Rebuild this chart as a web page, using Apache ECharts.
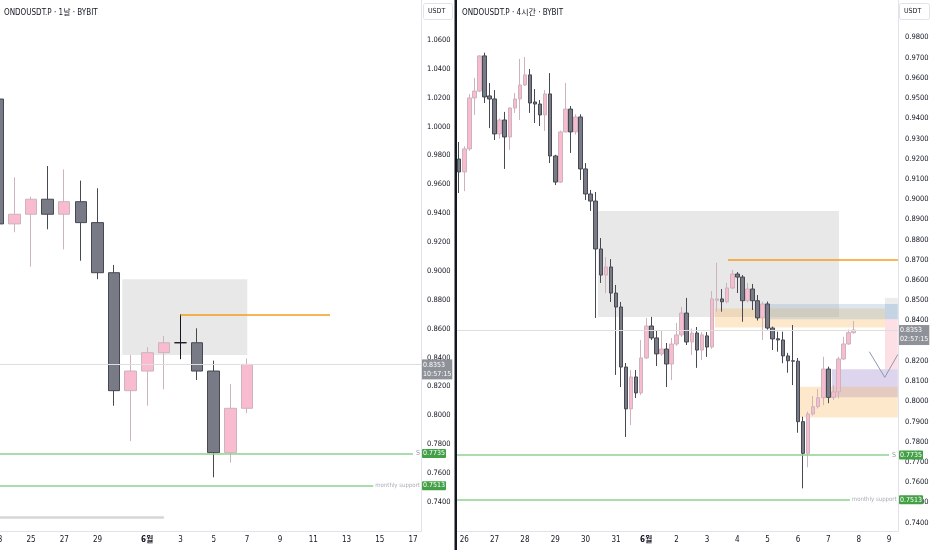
<!DOCTYPE html>
<html>
<head>
<meta charset="utf-8">
<script src="https://cdn.jsdelivr.net/npm/echarts@6/dist/echarts.min.js"></script>
<style>
html,body{margin:0;padding:0;background:#ffffff;}
#chart{width:932px;height:550px;}
</style>
</head>
<body>
<div id="chart"></div>
<script>
// ---------- DATA ----------
// day numbers on a continuous scale where 6월 1일 = 32 (5월 31일 = 31)
const dailyDays = [23,24,25,26,27,28,29,30,31,32,33,34,35,36,37,38];
// [open, close, low, high]
const dailyOHLC = [
  [1.0191,0.9326,0.9290,1.0250],
  [0.9326,0.9393,0.9268,0.9649],
  [0.9393,0.9497,0.9030,0.9515],
  [0.9497,0.9393,0.9289,0.9727],
  [0.9393,0.9480,0.9150,0.9704],
  [0.9480,0.9335,0.9071,0.9626],
  [0.9335,0.8988,0.8943,0.9573],
  [0.8988,0.8171,0.8067,0.9042],
  [0.8171,0.8307,0.7823,0.8418],
  [0.8307,0.8434,0.8067,0.8472],
  [0.8434,0.8503,0.8181,0.8550],
  [0.8503,0.8503,0.8389,0.8700],
  [0.8503,0.8307,0.8245,0.8603],
  [0.8307,0.7742,0.7571,0.8379],
  [0.7742,0.8049,0.7672,0.8217],
  [0.8049,0.8353,0.8015,0.8395]
];
// 4h bars: first bar is 37 bars before 6월 1일 00:00
const h4FirstBar = -37;
const h4OHLC = [
  [0.9199,0.9135,0.9031,0.9283],[0.9135,0.9249,0.9040,0.9262],[0.9249,0.9501,0.9240,0.9520],
  [0.9501,0.9535,0.9417,0.9600],[0.9535,0.9709,0.9530,0.9712],[0.9709,0.9506,0.9476,0.9725],
  [0.9511,0.9496,0.9352,0.9575],[0.9496,0.9323,0.9293,0.9540],[0.9323,0.9392,0.9300,0.9400],
  [0.9392,0.9308,0.9150,0.9432],[0.9308,0.9451,0.9244,0.9455],[0.9451,0.9496,0.9427,0.9525],
  [0.9496,0.9565,0.9392,0.9694],[0.9565,0.9615,0.9560,0.9704],[0.9615,0.9476,0.9427,0.9644],
  [0.9481,0.9471,0.9377,0.9545],[0.9471,0.9417,0.9362,0.9491],[0.9417,0.9521,0.9338,0.9540],
  [0.9521,0.9214,0.9179,0.9624],[0.9214,0.9085,0.9070,0.9220],[0.9085,0.9333,0.9080,0.9340],
  [0.9333,0.9446,0.9330,0.9575],[0.9446,0.9333,0.9229,0.9461],[0.9333,0.9407,0.9320,0.9420],
  [0.9407,0.9150,0.9095,0.9420],[0.9150,0.9026,0.8996,0.9179],[0.9026,0.8991,0.8942,0.9046],
  [0.8991,0.8754,0.8413,0.9036],[0.8754,0.8625,0.8586,0.8808],[0.8625,0.8665,0.8536,0.8714],
  [0.8665,0.8536,0.8492,0.8704],[0.8536,0.8467,0.8131,0.8576],[0.8467,0.8170,0.8071,0.8492],
  [0.8170,0.7963,0.7824,0.8190],[0.7963,0.8121,0.7883,0.8155],[0.8121,0.8042,0.8017,0.8155],
  [0.8042,0.8215,0.8032,0.8304],[0.8215,0.8373,0.8210,0.8413],[0.8373,0.8314,0.8304,0.8418],
  [0.8314,0.8235,0.8175,0.8353],[0.8235,0.8259,0.8225,0.8353],[0.8259,0.8185,0.8071,0.8289],
  [0.8185,0.8284,0.8106,0.8314],[0.8284,0.8329,0.8275,0.8388],[0.8329,0.8437,0.8320,0.8467],
  [0.8437,0.8294,0.8279,0.8512],[0.8294,0.8338,0.8230,0.8360],[0.8338,0.8254,0.8166,0.8368],
  [0.8254,0.8329,0.8205,0.8343],[0.8324,0.8269,0.8220,0.8343],[0.8269,0.8507,0.8260,0.8546],
  [0.8500,0.8507,0.8444,0.8686],[0.8507,0.8493,0.8444,0.8556],[0.8493,0.8561,0.8485,0.8586],
  [0.8561,0.8630,0.8555,0.8650],[0.8630,0.8615,0.8536,0.8640],[0.8615,0.8498,0.8394,0.8625],
  [0.8498,0.8556,0.8490,0.8586],[0.8556,0.8498,0.8452,0.8581],[0.8498,0.8413,0.8400,0.8526],
  [0.8413,0.8482,0.8304,0.8494],[0.8482,0.8363,0.8355,0.8494],[0.8363,0.8309,0.8254,0.8370],
  [0.8310,0.8304,0.8246,0.8345],[0.8304,0.8225,0.8189,0.8345],[0.8225,0.8201,0.8142,0.8240],
  [0.8201,0.8199,0.8081,0.8378],[0.8199,0.7900,0.7845,0.8215],[0.7900,0.7743,0.7570,0.7924],
  [0.7743,0.7938,0.7674,0.7949],[0.7938,0.7974,0.7930,0.8027],[0.7974,0.8018,0.7965,0.8061],
  [0.8018,0.8160,0.7982,0.8221],[0.8160,0.8020,0.7991,0.8172],[0.8020,0.8047,0.8007,0.8081],
  [0.8047,0.8210,0.8015,0.8221],[0.8210,0.8284,0.8205,0.8320],[0.8284,0.8340,0.8280,0.8355],
  [0.8340,0.8353,0.8335,0.8398]
];
const leftPriceTicks = [0.74,0.76,0.78,0.80,0.82,0.84,0.86,0.88,0.90,0.92,0.94,0.96,0.98,1.00,1.02,1.04,1.06];
const rightPriceTicks = [0.74,0.75,0.76,0.77,0.78,0.79,0.80,0.81,0.82,0.83,0.84,0.85,0.86,0.87,0.88,0.89,0.90,0.91,0.92,0.93,0.94,0.95,0.96,0.97,0.98];
const leftDayTicks = [23,25,27,29,32,34,36,38,40,42,44,46,48];
const rightDayTicks = [26,27,28,29,30,31,32,33,34,35,36,37,38,39,40];
const lastPrice = 0.8353;
const leftCountdown = '10:57:15';
const rightCountdown = '02:57:15';
const supportS = 0.7735;
const monthlySupport = 0.7513;
const highLine = 0.8700;
const boxLow = 0.8418, boxHigh = 0.8942;
const oldLowLine = 0.7291;
// right panel zones: [x1, y1, x2, y2, colour]
const rightZones = [
  [30.408,0.8418,38.351,0.8942,'rgba(180,180,180,0.30)'],
  [34.264,0.8365,39.867,0.8460,'rgba(248,178,85,0.30)'],
  [36.077,0.8407,40.29,0.8482,'rgba(142,172,198,0.30)'],
  [39.867,0.8407,40.29,0.8482,'rgba(142,172,198,0.30)'],
  [39.867,0.8482,40.29,0.8512,'rgba(180,180,180,0.25)'],
  [39.867,0.8159,40.29,0.8407,'rgba(248,152,172,0.30)'],
  [38.12,0.8020,40.29,0.8159,'rgba(142,115,198,0.30)'],
  [37.066,0.7920,40.29,0.8073,'rgba(248,178,85,0.30)']
];
const projectionPath = [[39.35,0.8246],[39.86,0.8119],[40.29,0.8232]];

// ---------- STYLE ----------
const FONT = "'Liberation Sans Narrow','DejaVu Sans Condensed','Liberation Sans','Noto Sans CJK KR',sans-serif";
const TXT = '#131722';
const AXISLINE = '#e0e3eb';
const LMIN = 23, LMAX = 48.48, RMIN = 25.761, RMAX = 40.296;

function dayLabel(v){
  const d = Math.round(v);
  if (d === 32) return '{b|6월}';
  return String(d > 32 ? d - 31 : d);
}
const candleStyle = {
  color: '#f8bbd0', color0: '#787b86',
  borderColor: '#cdb3bc', borderColor0: '#464852', borderWidth: 1
};
const HIDDEN = {color:'rgba(0,0,0,0)', width:0, type:'solid'};
function tagLabel(text, bg){
  return {show:true, position:'end', distance:1, formatter:text,
    backgroundColor:bg, color:'#ffffff', fontFamily:FONT, fontSize:7,
    padding:[1,1,1,1], borderRadius:1};
}
function priceTag(cd){
  return {show:true, position:'end', distance:1,
    formatter: lastPrice.toFixed(4) + '\n' + cd,
    backgroundColor:'#8f9199', color:'#ffffff', fontFamily:FONT, fontSize:7,
    lineHeight:9, padding:[1,1,1,1], offset:[0,5]};
}
function levelLines(x0, sEnd, mEnd, cd){
  return [
    {yAxis:lastPrice, lineStyle:{color:'#dedede', width:1, type:'solid'}, label:priceTag(cd)},
    [{coord:[x0, supportS], lineStyle:{color:'#8fd08f', width:1.5, type:'solid'},
      label:{show:true, position:'end', distance:3, formatter:'S', color:'#9598a1', fontFamily:FONT, fontSize:7}},
     {coord:[sEnd, supportS]}],
    [{coord:[x0, monthlySupport], lineStyle:{color:'#8fd08f', width:1.5, type:'solid'},
      label:{show:true, position:'end', distance:2, formatter:'monthly support', color:'#a9acb5', fontFamily:FONT, fontSize:6}},
     {coord:[mEnd, monthlySupport]}],
    {yAxis:supportS, lineStyle:HIDDEN, label:tagLabel(supportS.toFixed(4), '#43a047')},
    {yAxis:monthlySupport, lineStyle:HIDDEN, label:tagLabel(monthlySupport.toFixed(4), '#43a047')}
  ];
}

const dailyData = dailyDays.map((d,i) => {
  const v = [d].concat(dailyOHLC[i]);
  if (dailyOHLC[i][0] === dailyOHLC[i][1]) {
    return {value:v, itemStyle:{borderColor:TXT, borderColor0:TXT, color:TXT, color0:TXT}};
  }
  return v;
});
const h4Data = h4OHLC.map((c,i) => [32 + (h4FirstBar + i)/6].concat(c));

const chart = echarts.init(document.getElementById('chart'), null, {renderer:'canvas'});
chart.setOption({
  animation:false,
  backgroundColor:'#ffffff',
  textStyle:{fontFamily:FONT},
  title:[
    {text:'ONDOUSDT.P · 1날 · BYBIT', left:4, top:9, padding:0,
     textStyle:{fontSize:8, fontWeight:'normal', color:TXT, fontFamily:FONT}},
    {text:'ONDOUSDT.P · 4시간 · BYBIT', left:462, top:9, padding:0,
     textStyle:{fontSize:8, fontWeight:'normal', color:TXT, fontFamily:FONT}}
  ],
  grid:[
    {left:-2.2, right:511, top:0, bottom:19, outerBoundsMode:'none', containLabel:false},
    {left:457, right:34, top:0, bottom:19, outerBoundsMode:'none', containLabel:false}
  ],
  xAxis:[
    {type:'value', gridIndex:0, min:LMIN, max:LMAX,
     axisLine:{show:true, onZero:false, lineStyle:{color:AXISLINE}}, axisTick:{show:false}, splitLine:{show:false},
     axisLabel:{customValues:leftDayTicks, formatter:dayLabel, color:TXT, fontSize:8, margin:5, fontFamily:FONT,
       rich:{b:{fontWeight:'bold', fontSize:8, color:TXT, fontFamily:FONT}}}},
    {type:'value', gridIndex:1, min:RMIN, max:RMAX,
     axisLine:{show:true, onZero:false, lineStyle:{color:AXISLINE}}, axisTick:{show:false}, splitLine:{show:false},
     axisLabel:{customValues:rightDayTicks, formatter:dayLabel, color:TXT, fontSize:8, margin:5, fontFamily:FONT,
       rich:{b:{fontWeight:'bold', fontSize:8, color:TXT, fontFamily:FONT}}}}
  ],
  yAxis:[
    {type:'value', gridIndex:0, position:'right', min:0.7199, max:1.0877, scale:true,
     axisLine:{show:true, lineStyle:{color:AXISLINE}}, axisTick:{show:false}, splitLine:{show:false},
     axisLabel:{customValues:leftPriceTicks, formatter:v => v.toFixed(4), color:TXT, fontSize:7.5, margin:6, fontFamily:FONT}},
    {type:'value', gridIndex:1, position:'right', min:0.7359, max:0.99855, scale:true,
     axisLine:{show:true, lineStyle:{color:AXISLINE}}, axisTick:{show:false}, splitLine:{show:false},
     axisLabel:{customValues:rightPriceTicks, formatter:v => v.toFixed(4), color:TXT, fontSize:7.5, margin:7, fontFamily:FONT}}
  ],
  series:[
    {
      type:'candlestick', name:'1D', xAxisIndex:0, yAxisIndex:0,
      encode:{x:0, y:[1,2,3,4]}, barWidth:12, itemStyle:candleStyle, data:dailyData,
      markArea:{silent:true, data:[[{coord:[30.495, boxHigh], itemStyle:{color:'rgba(180,180,180,0.30)'}}, {coord:[38.02, boxLow]}]]},
      markLine:{silent:true, symbol:['none','none'], animation:false, precision:4,
        data:[
          [{coord:[34, highLine], lineStyle:{color:'#f59d1b', width:1.5, type:'solid'}, label:{show:false}}, {coord:[43.0, highLine]}],
          [{coord:[LMIN, oldLowLine], lineStyle:{color:'#d6d6d6', width:2.5, type:'solid'}, label:{show:false}}, {coord:[33.0, oldLowLine]}]
        ].concat(levelLines(LMIN, 48.0, 45.61, leftCountdown))
      },
      z:3
    },
    {
      type:'candlestick', name:'4h', xAxisIndex:1, yAxisIndex:1,
      encode:{x:0, y:[1,2,3,4]}, barWidth:4, itemStyle:candleStyle, data:h4Data,
      markArea:{silent:true, data: rightZones.map(z => [{coord:[z[0], z[3]], itemStyle:{color:z[4]}}, {coord:[z[2], z[1]]}])},
      markLine:{silent:true, symbol:['none','none'], animation:false, precision:4,
        data:[
          [{coord:[34.693, highLine], lineStyle:{color:'#f59d1b', width:1.5, type:'solid'}, label:{show:false}}, {coord:[RMAX - 0.001, highLine]}]
        ].concat(levelLines(RMIN + 0.005, 40.0, 38.714, rightCountdown))
      },
      z:3
    },
    {
      type:'line', name:'projection', xAxisIndex:1, yAxisIndex:1, data:projectionPath,
      symbol:'none', lineStyle:{color:'#8d99ae', width:1}, silent:true, z:4
    }
  ],
  graphic:[
    {type:'rect', shape:{x:454.5, y:0, width:2.5, height:550}, style:{fill:'#131722'}, z:100},
    {type:'rect', shape:{x:423.5, y:3.5, width:29, height:16, r:2}, style:{fill:'#ffffff', stroke:'#e0e3eb', lineWidth:1}, z:100},
    {type:'text', x:428, y:8, style:{text:'USDT', fill:TXT, font:"7px " + FONT}, z:101},
    {type:'rect', shape:{x:899.5, y:3.5, width:30, height:16, r:2}, style:{fill:'#ffffff', stroke:'#e0e3eb', lineWidth:1}, z:100},
    {type:'text', x:904, y:8, style:{text:'USDT', fill:TXT, font:"7px " + FONT}, z:101}
  ]
});
</script>
</body>
</html>
